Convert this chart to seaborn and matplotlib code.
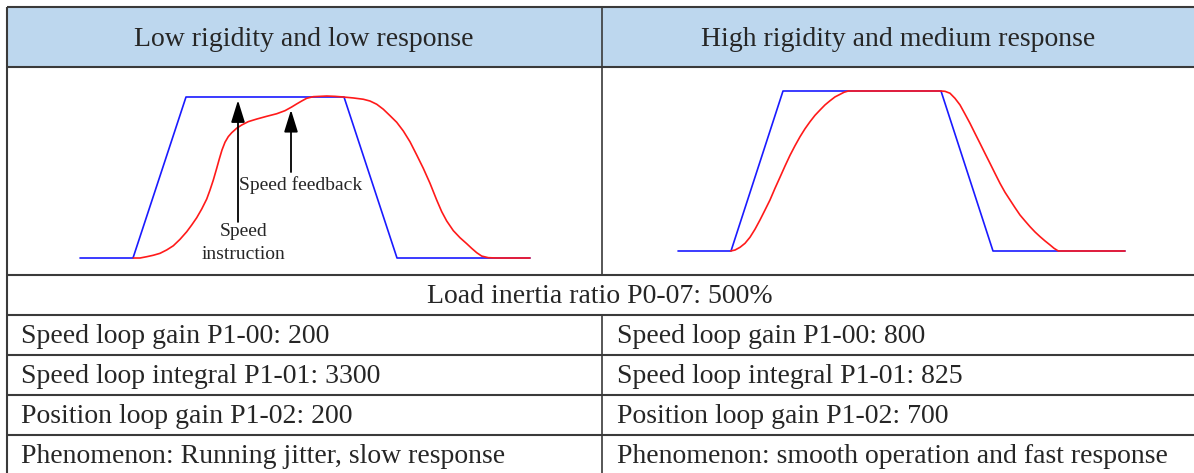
import matplotlib
matplotlib.use('Agg')
import matplotlib.pyplot as plt
from matplotlib.patches import Rectangle
import seaborn as sns

# time / speed (%)
low_cmd_t = [0, 53, 106, 264, 317, 450]
low_cmd_v = [0, 0, 100, 100, 0, 0]
low_fb_t = [53.3, 60, 66.7, 73.3, 80, 86.7, 93.3, 100, 106.7, 111.7, 116.7, 121.7, 126.7, 130,
            133.3, 136.7, 139.3, 142, 145, 148.3, 151.7, 156.7, 161.7, 168.3, 176.7, 186.7,
            196.7, 205, 211.7, 216.7, 221.7, 226.7, 233.3, 240, 246.7, 255, 263.3, 273.3,
            283.3, 290, 296.7, 303.3, 310, 316.7, 323.3, 330, 336.7, 343.3, 350, 356.7, 361.7,
            366.7, 373.3, 380, 386.7, 391.7, 396.7, 401.7, 408.3, 416.7, 450]
low_fb_v = [0, 0, 0.8, 1.7, 2.9, 5.0, 7.6, 11.6, 16.3, 20.5, 25.0, 30.4, 36.6, 42.2,
            48.4, 55.7, 61.5, 67.1, 71.9, 75.4, 77.8, 80.6, 82.6, 84.7, 86.3, 88.0,
            89.6, 91.5, 93.8, 95.7, 97.5, 99.2, 100.2, 100.4, 100.6, 100.4, 100, 99.4,
            98.6, 97.5, 95.5, 92.4, 88.4, 84.3, 78.9, 72.2, 64.0, 55.7, 46.4, 36.0, 28.8,
            23.0, 17.0, 12.6, 8.9, 6.0, 3.3, 1.2, 0.2, 0, 0]

high_cmd_t = [0, 53, 105, 263, 315, 447]
high_cmd_v = [0, 0, 100, 100, 0, 0]
high_fb_t = [52.7, 57, 62, 67, 72, 77, 82, 87, 92, 97, 102, 107, 112, 117, 122, 127, 132, 137,
             142, 147, 152, 157, 162, 166, 170.3,
             263, 267, 272, 277, 282, 287, 292, 297, 302, 307, 312, 317, 322, 327, 332, 337,
             342, 347, 352, 357, 362, 367, 372, 376, 380.3, 447]
high_fb_v = [0, 0.6, 2.3, 4.8, 8.6, 13.6, 19.4, 25.6, 31.9, 39.2, 46.1, 53.1, 59.8, 65.8, 71.4,
             76.4, 80.8, 84.8, 88.1, 91.3, 93.9, 96.3, 97.9, 99.2, 100,
             100, 99.8, 98.6, 95.4, 91.3, 85.6, 79.8, 73.5, 67.3, 61.0, 54.8, 48.5, 42.3, 36.7,
             31.9, 27.1, 22.5, 18.8, 15.2, 11.9, 9.0, 6.3, 3.8, 1.7, 0, 0]

headers = ['Low rigidity and low response', 'High rigidity and medium response']
shared_row = 'Load inertia ratio P0-07: 500%'
left_rows = ['Speed loop gain P1-00: 200', 'Speed loop integral P1-01: 3300',
             'Position loop gain P1-02: 200', 'Phenomenon: Running jitter, slow response']
right_rows = ['Speed loop gain P1-00: 800', 'Speed loop integral P1-01: 825',
              'Position loop gain P1-02: 700', 'Phenomenon: smooth operation and fast response']

sns.set_theme(style='white')
plt.rcParams['font.family'] = ['Liberation Serif', 'DejaVu Serif']

W, H = 1194, 473
fig = plt.figure(figsize=(W / 100, H / 100), dpi=100)
fig.patch.set_facecolor('white')

# table drawn in pixel coordinates
tab = fig.add_axes([0, 0, 1, 1])
tab.set_xlim(0, W)
tab.set_ylim(H, 0)
tab.axis('off')

line_c = '#3a3a3a'
tab.add_patch(Rectangle((7, 7.5), W - 7, 59.5, facecolor='#BDD7EE', edgecolor='none'))
tab.hlines([7.5, 67, 275, 315, 355, 395, 435], 7, W, colors=line_c, lw=1.5)
tab.vlines(7, 7.5, H, colors=line_c, lw=1.5)
tab.vlines(602, 7.5, 275, colors=line_c, lw=1.2)
tab.vlines(602, 315, H, colors=line_c, lw=1.2)

tab.text(304, 40, headers[0], ha='center', va='center', fontsize=20)
tab.text(898, 40, headers[1], ha='center', va='center', fontsize=20)
tab.text(600, 296, shared_row, ha='center', va='center', fontsize=20)
for i, (a, b) in enumerate(zip(left_rows, right_rows)):
    y = 336 + 40 * i
    tab.text(21, y, a, ha='left', va='center', fontsize=20)
    tab.text(617, y, b, ha='left', va='center', fontsize=20)


def px_axes(l, t, r, b):
    ax = fig.add_axes([l / W, 1 - b / H, (r - l) / W, (b - t) / H])
    ax.axis('off')
    ax.patch.set_alpha(0)
    return ax


ax1 = px_axes(70, 85, 540, 270)
ax1.set_xlim(-10, 460)
ax1.set_ylim(-7.45, 107.45)
sns.lineplot(x=low_cmd_t, y=low_cmd_v, color='#1a1aff', lw=1.2, estimator=None, ax=ax1)
sns.lineplot(x=low_fb_t, y=low_fb_v, color='#ff1a1a', lw=1.2, estimator=None, ax=ax1)

arrow = dict(arrowstyle='-|>,head_length=0.9,head_width=0.28', mutation_scale=15,
             color='black', lw=1.3, shrinkA=0, shrinkB=0)
ax1.annotate('', xy=(158, 98), xytext=(158, 22.4), arrowprops=arrow)
ax1.annotate('', xy=(211, 92), xytext=(211, 53.4), arrowprops=arrow)
tab.text(301, 185, 'Speed feedback', ha='center', va='center', fontsize=14)
tab.text(244, 231, 'Speed', ha='center', va='center', fontsize=14)
tab.text(244, 254, 'instruction', ha='center', va='center', fontsize=14)

ax2 = px_axes(668, 80, 1135, 265)
ax2.set_xlim(-10, 457)
ax2.set_ylim(-8.75, 106.875)
sns.lineplot(x=high_cmd_t, y=high_cmd_v, color='#1a1aff', lw=1.2, estimator=None, ax=ax2)
sns.lineplot(x=high_fb_t, y=high_fb_v, color='#ff1a1a', lw=1.2, estimator=None, ax=ax2)

fig.savefig('out.png', dpi=100, facecolor='white')
